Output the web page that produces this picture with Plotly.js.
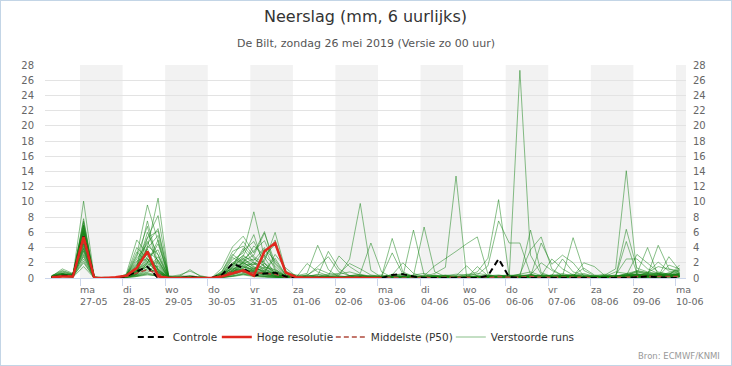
<!DOCTYPE html>
<html><head><meta charset="utf-8">
<script src="https://cdn.plot.ly/plotly-3.0.1.min.js"></script>
<style>
html,body{margin:0;padding:0;background:#fff;}
#wrap{width:730px;height:364px;border:1px solid #c3d5e6;}
#chart{width:730px;height:364px;}
</style>
</head><body>
<div id="wrap"><div id="chart"></div></div>
<script>
// ---- time axis (6-hourly, local time) ----
const stepHours = 6;
const nSteps = 60;
const dayDates = ['2019-05-27','2019-05-28','2019-05-29','2019-05-30','2019-05-31','2019-06-01','2019-06-02','2019-06-03','2019-06-04','2019-06-05','2019-06-06','2019-06-07','2019-06-08','2019-06-09','2019-06-10'];
const dayNames = ['ma','di','wo','do','vr','za','zo','ma','di','wo','do','vr','za','zo','ma'];
const dayLabels = ['27-05','28-05','29-05','30-05','31-05','01-06','02-06','03-06','04-06','05-06','06-06','07-06','08-06','09-06','10-06'];
const shadedDays = [['2019-05-27','2019-05-28'],['2019-05-29','2019-05-30'],['2019-05-31','2019-06-01'],['2019-06-02','2019-06-03'],['2019-06-04','2019-06-05'],['2019-06-06','2019-06-07'],['2019-06-08','2019-06-09'],['2019-06-10','2019-06-11']];
const yTicks = [0,2,4,6,8,10,12,14,16,18,20,22,24,26,28];

// ---- series (mm per 6 h) ----
const controle = [0.1,0.3,0.3, 5.5,0,0,0, 0.2,0.9,1.5,0, 0,0,0.1,0, 0,0.4,1.9,1.3, 0.3,0.6,0.7,0.2, 0,0,0,0, 0,0,0,0, 0,0.4,0.5,0.2, 0,0,0,0, 0,0,0.3,2.5, 0.1,0,0,0, 0,0,0,0, 0,0,0,0, 0.1,0.2,0.1,0, 0];
const hogeResolutie = [0.1,0.2,0.2, 5.4,0,0,0.1, 0.3,1.3,3.5,0.2, 0,0,0,0, 0,0.2,0.6,1.0, 0.3,3.5,4.6,0.7, 0.1,0,0,0, 0,0,0,0, 0];
const middelste = [0.1,0.3,0.2, 4.8,0,0,0, 0.2,0.6,1.1,0.5, 0,0,0,0, 0,0.3,0.9,0.8, 0.7,0.6,0.5,0.1, 0.1,0.1,0.1,0, 0,0.1,0.1,0, 0,0.1,0,0, 0.1,0,0.1,0.1, 0.1,0,0,0.2, 0.1,0.1,0.2,0.1, 0.1,0.1,0.1,0.1, 0,0,0.1,0.1, 0.2,0.2,0.2,0.2, 0.2];

const m01 = [0.2,0.8,0.4, 10.1,0.1,0,0, 0.2,1.0,2.5,0.8, 0,0.1,0.2,0, 0,0.5,1.8,2.6, 1.4,0.8,0.4,0.1, 0,0.2,0.5,0.3, 0,0,0.1,0, 0,0.2,0.4,0.1, 0,0.3,0.1,0, 0,0.2,0.1,0.2, 0.2,27.3,3.0,0.5, 0.2,0.1,0.4,0.2, 0,0,0.2,0.6, 0.4,0.3,0.5,0.2, 0.3];
const m02 = [0.1,0.4,0.2, 7.8,0,0,0.1, 0.3,3.0,9.6,4.8, 0.1,0,0,0.2, 0,0.3,0.9,1.5, 0.8,1.9,0.6,0.2, 0,0,0.2,0.1, 0,0.1,0,0, 0,0.1,0,0.3, 0.2,0.6,1.4,13.4, 0.1,0.3,0.1,0, 0,0.2,0.5,0.1, 0,0.4,0.2,0, 0,0.1,0.3,0.2, 0.5,0.2,0.1,0.4, 0.2];
const m03 = [0,0.3,0.5, 7.3,0.1,0,0, 0.1,0.8,4.0,10.5, 0.2,0,0,0, 0,0.1,0.6,2.2, 3.0,5.9,2.0,0.4, 0.2,0.4,0.2,0, 0,0,0.3,0.2, 0.1,0,0.2,0.1, 0,0.2,0.1,0.3, 0.2,0,0.3,0.1, 0,0.1,0.3,0.2, 0.4,0.3,0.2,0.1, 0,0.4,1.2,14.1, 0.3,0.2,0.6,0.4, 0.5];
const m04 = [0.2,1.2,0.6, 7.0,0.2,0,0, 0.4,2.0,5.3,8.2, 0.1,0.2,0,0, 0,0.8,3.5,4.2, 2.6,1.5,0.8,0.3, 0,0.4,1.2,0.6, 0.3,2.5,9.8,1.0, 0.1,0.2,0,0, 0,0.1,0.2,0, 0.3,0.1,0,0.2, 0.1,0,0.2,0.1, 0.2,0.1,0.3,0.2, 0.1,0,0.2,0.4, 0.2,0.3,0.4,0.6, 0.4];
const m05 = [0.1,0.5,0.3, 6.8,0,0,0, 0.5,5.0,3.2,0.6, 0,0,0.3,0.1, 0,0.2,1.1,2.0, 1.2,0.7,3.1,1.3, 0.2,0.1,0,0, 0,0,0.1,0, 0,0.3,0.6,0.2, 0.1,0,0.3,0.5, 0.4,0.8,2.6,10.3, 0.2,0.5,0.8,0.3, 0.1,0.2,0.1,0, 0,0.2,0.1,0.3, 0.8,0.5,0.3,0.2, 1.0];
const m06 = [0.3,0.9,0.5, 6.5,0,0.1,0, 0.2,0.6,5.3,6.2, 0.3,0,0,0, 0,0.6,2.4,3.3, 8.7,2.7,0.5,0.1, 0,0,0,0.2, 0.2,0,0,0, 0,0.1,0.2,0, 0,0.4,0.1,0, 0,0.2,0.3,0.2, 0.1,0.3,0.2,0.4, 0.3,0.6,0.2,0, 0,0.1,0.2,0.1, 0.3,0.6,0.3,0.7, 0.6];
const m07 = [0,0.2,0.1, 6.3,0.1,0,0, 0.2,1.5,7.5,1.8, 0,0.1,0,0, 0,1.3,4.1,5.5, 3.3,6.1,1.2,0.2, 0.1,1.9,0.8,0.3, 0,0,0.2,0.1, 0.1,0.3,0.5,0.2, 0.1,0,0.2,0.1, 0.5,0.4,1.6,7.5, 4.6,4.6,0.5,0.2, 0.1,0.3,0.2,0.1, 0,0.1,0.2,0.2, 0.4,0.5,0.2,0.3, 0.2];
const m08 = [0.1,0.3,0.2, 6.0,0,0,0, 0.1,0.5,2.0,5.0, 0.1,0,0.1,0, 0,0.1,0.7,1.7, 1.8,2.2,6.0,0.9, 0.3,0.6,4.3,1.1, 0.1,0.2,0.1,0, 0,0,0.1,0, 0,0.2,0.3,0.1, 0.2,0.1,0,0.3, 0.3,0.2,6.3,0.7, 0.2,0.1,0.3,0.2, 0.3,0.5,0.2,0.4, 0.2,0.1,0.3,0.2, 0.3];
const m09 = [0.2,0.6,0.3, 5.8,0,0,0, 0.3,1.1,3.5,2.4, 0,0,0,0.1, 0,0.4,0.9,1.2, 0.9,1.4,1.1,0.3, 0.1,0.2,0.3,3.5, 1.2,0.3,0.1,0, 0.2,5.2,0.8,0.2, 0.1,0,0.1,0.2, 0,0.3,0.2,0.1, 0.1,0,0.1,0.3, 2.5,1.2,0.4,0.2, 0.2,0.3,0.1,0.2, 0.3,0.2,0.2,0.5, 0.4];
const m10 = [0.1,0.4,0.4, 5.5,0.1,0,0, 0.4,2.2,3.0,0.5, 0.2,0.4,0.9,0.3, 0,0.2,1.5,3.9, 2.0,0.9,0.3,0.1, 0,0,0.1,0.3, 2.9,1.5,0.6,4.6, 0.8,0.1,0,0, 0.1,0.3,0.2,0, 0.2,0.6,0.4,0.1, 0,0.3,0.2,0.1, 0.1,0.2,5.3,1.0, 0.3,0.1,0,0.2, 0.2,0.4,0.3,0.2, 0.7];
const m11 = [0,0.3,0.2, 5.2,0,0,0, 0.2,0.9,2.8,3.7, 0,0,0.1,0, 0,0.3,2.0,2.9, 5.7,1.3,0.4,0, 0,0,0,0.1, 0.1,0,0.2,0, 0,0.1,0.2,6.3, 0.4,0.2,0.1,0, 0,0.1,0.2,0.1, 0.2,0.1,0.3,0.2, 0.1,0,0.1,0.3, 0.2,0.1,0.2,4.8, 0.6,0.2,0.1,0.3, 0.5];
const m12 = [0.2,0.5,0.4, 5.0,0,0.1,0, 0.3,4.0,2.5,1.2, 0,0,0,0, 0,0.5,1.2,2.1, 1.1,2.9,4.4,0.6, 0.4,0.2,0.2,0.1, 0,0.3,0.4,0.1, 0,0,0,0.3, 6.7,0.8,0.2,0.1, 0,0,0.2,0.1, 0.1,0.2,0.1,0.3, 0.2,0.3,0.4,0.1, 0,0,0.3,0.5, 0.4,0.7,0.5,0.3, 0.2];
const m13 = [0.1,0.2,0.2, 4.8,0,0,0, 0.1,0.7,1.8,2.0, 0,0.2,1.1,0.2, 0,0.2,0.5,0.9, 0.6,0.4,0.2,0, 0,0,0.1,0.2, 0.5,0.8,0.4,0.1, 0.2,3.3,0.5,0.2, 0,0.2,0.1,0, 0,0.1,0.2,0.3, 0.4,0.2,0.1,0.1, 0,0.2,0.1,0.2, 0.1,0.3,0.2,6.4, 1.3,0.8,0.5,0.3, 1.7];
const m14 = [0.3,0.6,0.2, 4.5,0.1,0,0, 0.2,1.3,4.2,3.1, 0.1,0,0,0, 0,0.3,1.6,2.5, 1.7,3.8,2.3,0.4, 0.1,0.3,0.2,0.1, 0,0.2,0.3,0.2, 0,0.1,0,0, 0.3,1.6,2.5,3.5, 4.5,5.4,0.5,0.1, 0,0.2,0.4,0.2, 0.1,0.2,0.1,0.1, 0.2,0.1,0,0.3, 0.2,0.3,0.4,0.2, 0.6];
const m15 = [0.1,0.3,0.1, 4.2,0,0,0, 0.1,0.4,1.0,1.6, 0,0,0,0, 0,0.1,0.4,1.0, 0.7,0.5,0.2,0, 0,0.1,0.1,0, 0,0,0.1,0.3, 0.4,0.2,0.1,0, 0.1,0.2,0.3,0.1, 0,0.1,0.2,0.2, 0.3,0.5,3.7,5.4, 1.2,0.3,0.2,0.1, 0,0.1,0.3,0.2, 0.6,4.0,0.3,0.4, 0.3];
const m16 = [0.2,0.4,0.3, 4.0,0,0,0, 0.3,0.8,1.5,0.4, 0,0.3,0.2,0, 0,0.2,0.8,1.4, 1.2,1.0,0.5,0.2, 0,0.2,0.4,0.2, 0.3,0.1,0,0, 0,0,0.2,0.3, 0.2,0.1,0.1,0.1, 0.1,0,0.1,0.2, 0.1,0.1,0.2,4.6, 1.8,3.0,2.0,0.3, 0.1,0.2,0.2,0.5, 0.5,0.4,4.3,1.2, 0.9];
const m17 = [0,0.2,0.3, 3.8,0,0,0, 0.2,1.7,3.8,0.9, 0,0,0,0, 0,0.4,2.7,1.8, 0.9,0.6,0.3,0.1, 0,0.3,1.5,2.8, 0.8,0.3,0.2,0, 0,0.1,0,0.1, 0,0.1,0,0.2, 0.2,0.1,0.3,0.4, 0.2,0.4,0.3,0.1, 0.3,2.5,0.8,0.4, 0.2,0.2,0.4,2.5, 2.5,1.2,0.6,0.3, 0.4];
const m18 = [0.1,0.3,0.2, 3.5,0,0,0, 0.1,0.4,0.8,1.2, 0,0,0,0, 0,0,0.3,0.6, 0.4,0.8,0.5,0.1, 0,0,0.2,0.5, 0.6,1.9,1.2,0.4, 0.2,0.1,0.2,0, 0,0.1,0.1,0, 0.1,0.1,0.2,0.1, 0,0.1,0.2,0.3, 0.2,0.1,0.2,2.0, 1.5,0.3,0.1,0.2, 0.3,0.2,0.2,0.2, 0.2];
const m19 = [0.2,0.5,0.3, 3.2,0.1,0,0, 0.2,0.6,2.2,1.0, 0.1,0,0,0.1, 0,0.2,1.0,2.3, 1.5,0.7,0.2,0, 0,0.1,0,0.1, 0.2,0.1,0.2,0.3, 0.1,0.2,0.1,0.1, 0.3,0.2,0.4,0.2, 0.3,0.2,0.1,0.1, 0.2,0.1,0.1,0.2, 0.1,0.3,0.5,0.2, 0.1,0.1,0.2,0.3, 3.1,2.0,0.8,0.5, 1.3];
const m20 = [0.1,0.2,0.1, 3.0,0,0,0, 0,0.2,0.6,0.2, 0,0,0,0, 0,0.1,0.2,0.5, 0.3,0.2,0.1,0, 0,0,0,0, 0,0,0,0.1, 0.1,0,0.1,0.1, 0,0,0.1,0.1, 0.1,0.1,0,0.1, 0.1,0.1,0.2,0.1, 0.1,0.1,0.1,0.1, 0,0,0.1,0.2, 0.2,0.1,0.2,2.8, 1.0];
const m21 = [0.2,0.6,0.4, 2.8,0,0,0, 0.3,1.0,1.4,0.6, 0,0,0,0, 0,0.5,1.3,0.8, 0.5,0.3,0.1,0, 0,0.1,0.2,0.1, 0,0,0.1,0.2, 0.2,0.4,2.0,0.6, 0.2,0.1,0,0, 0,0.2,0.3,0.2, 0.3,0.2,0.1,0, 0.1,0.2,0.3,0.4, 0.3,0.2,0.8,0.6, 0.9,0.7,1.5,1.1, 0.8];
const m22 = [0,0.3,0.2, 2.5,0,0,0, 0.1,0.3,0.7,0.4, 0,0,0,0, 0,0.2,0.6,1.1, 0.8,0.4,0.2,0, 0,0,0,0, 0.1,0.3,0.5,0.2, 0,0,0.1,0, 0,0.1,0.2,0.1, 0,0,0.1,0.1, 0.1,0.2,0.1,0.3, 0.2,0.4,0.3,1.3, 0.4,0.2,0.1,0.1, 0.2,0.3,0.2,1.7, 1.2];
const m23 = [0.1,0.4,0.2, 2.2,0,0,0, 0.2,0.5,1.2,0.8, 0,0,0,0, 0,0.3,0.5,0.7, 0.4,0.2,0.1,0, 0,0,0,0, 0,0,0,0, 0,0.1,0.1,0, 0,0,0,0.1, 0.2,0.1,0.1,0, 0,0.1,0.1,0.1, 0.1,0.1,0.2,0.1, 0.1,0.2,0.3,0.2, 0.2,0.5,0.6,0.4, 0.5];
const m24 = [0.1,0.2,0.1, 1.5,0,0,0, 0.1,0.2,0.4,0.3, 0,0,0,0, 0,0.1,0.2,0.4, 0.2,0.1,0,0, 0,0,0,0, 0,0,0.1,0, 0,0,0,0, 0,0,0.1,0, 0,0.1,0,0, 0,0,0,0.1, 0,0.1,0.1,0, 0,0,0,0.1, 0.1,0.1,0.2,0.3, 0.4];
const m25 = [0.2,0.3,0.3, 6.9,0,0,0, 0.2,1.2,6.0,3.0, 0.1,0,0,0, 0,0.2,1.0,2.0, 4.2,3.0,1.5,0.2, 0.1,0,0.1,0, 0,0,0.1,0, 0,0.2,0.1,0, 0,0.1,0.3,0.2, 0,1.5,0.3,0, 0.1,0.2,0.1,0, 0.2,0.3,0.2,0.1, 0,0.2,0.1,0.2, 0.5,0.4,0.3,0.2, 0.5];
const m26 = [0.1,0.3,0.2, 6.1,0,0,0, 0.3,2.5,4.5,6.5, 0.2,0,0,0, 0,0.6,2.0,1.5, 1.0,2.5,5.0,0.8, 0.2,0.1,0,0, 0,0.3,0.2,0, 0,0.5,0.2,0, 0,0.1,0,0, 0.1,0.2,0.1,0.3, 0.2,0.1,0.4,2.0, 1.0,0.3,0.1,0, 0,0,0.2,0.3, 0.4,0.3,0.2,0.3, 0.6];
const m27 = [0.3,0.7,0.5, 5.7,0,0,0, 0.2,1.0,2.0,4.5, 0.1,0,0,0, 0,0.3,1.4,2.8, 2.3,4.0,1.0,0.2, 0,0,0.2,0.1, 0,0,0,0.1, 0.3,0.2,0.1,0, 0.2,0.3,0.1,0, 0,0.2,0.2,0.1, 0.1,0.3,0.4,0.1, 0.2,0.1,0.2,0.1, 0.1,0.2,0.1,0.4, 0.8,0.6,0.7,0.5, 1.1];
const m28 = [0.1,0.2,0.3, 4.6,0,0,0, 0.4,1.8,2.6,0.3, 0,0,0.2,0, 0,0.2,0.7,1.3, 2.1,1.2,0.6,0.1, 0,0,0,0, 0.1,0.2,0.1,0, 0.1,0,0,0.2, 0.1,0,0.2,0.3, 1.6,0.2,0.1,0, 0.1,0.2,0.1,0.1, 0.4,0.2,0.1,0.2, 0.1,0.3,0.2,0.2, 0.3,0.3,0.2,0.4, 0.3];
const m29 = [0.2,0.4,0.2, 3.6,0,0,0, 0.2,0.7,1.2,2.8, 0,0,0,0, 0,0.2,0.9,1.2, 0.7,0.5,0.8,0.2, 0,0,0,0.1, 0,0.2,0.3,0.1, 0,0,0.2,0.4, 0.6,0.2,0.1,0, 0.1,0.2,0.1,0.2, 0.1,0.2,0.2,0.2, 0.3,0.2,0.3,0.6, 0.2,0,0.1,0.3, 1.0,0.7,2.1,0.9, 0.7];
const m30 = [0,0.2,0.2, 2.0,0,0,0, 0.1,0.3,0.5,0.2, 0,0.1,0.3,0.1, 0,0.1,0.3,0.5, 0.3,0.2,0.1,0, 0,0,0,0, 0,0,0,0, 0,0,0,0.1, 0.1,0,0,0, 0,0,0.1,0, 0,0,0.1,0.1, 0.1,0,0.1,0.2, 0.1,0.1,0,0.1, 0.1,0.2,0.3,0.2, 0.3];
const m31 = [0.1,0.5,0.3, 7.5,0,0,0, 0.3,1.6,4.8,2.2, 0,0,0,0, 0,0.7,2.9,4.8, 2.8,1.9,0.6,0.1, 0,0,0.1,0, 0,0.1,0,0, 0,0,0.1,0, 0,0.1,0,0, 0.1,0,0.1,0, 0,0.1,0.2,0.1, 0.1,0.1,0,0.1, 0,0,0.1,0.2, 0.3,0.2,0.4,0.3, 0.4];
const m32 = [0.2,0.6,0.2, 6.6,0,0,0, 0.2,2.8,6.8,1.0, 0,0,0,0, 0,0.4,1.8,3.6, 4.8,2.0,0.9,0.2, 0,0.1,0,0, 0,0,0.1,0, 0.1,0,0,0, 0,0,0.1,0, 0,0.1,0,0, 0,0,0.1,0.1, 0.2,0.1,0.1,0, 0,0.1,0.1,0.1, 0.2,0.3,0.2,0.2, 0.3];
const m33 = [0.1,0.3,0.4, 5.9,0,0,0, 0.1,0.9,3.9,5.6, 0.1,0,0,0, 0,0.2,1.3,2.4, 3.6,4.9,1.8,0.3, 0,0,0,0.1, 0,0,0,0, 0,0.1,0,0, 0,0,0,0.1, 0.1,0,0,0, 0.1,0,0,0.1, 0,0.1,0.1,0, 0,0,0.1,0.1, 0.1,0.2,0.2,0.1, 0.2];
const m34 = [0.3,1.0,0.5, 6.2,0,0,0, 0.3,3.4,2.1,0.7, 0,0,0.2,0, 0,0.9,3.1,2.0, 1.3,0.9,2.6,0.4, 0,0,0,0, 0,0,0,0.1, 0,0,0.1,0, 0,0,0,0, 0,0,0.1,0, 0.1,0,0,0, 0.1,0,0.1,0.1, 0,0.1,0,0, 0.2,0.1,0.3,0.2, 0.2];
const m35 = [0.1,0.2,0.2, 5.3,0,0,0, 0.2,0.8,2.4,1.4, 0,0,0,0, 0,0.3,0.8,1.9, 2.5,1.6,0.5,0.1, 0,0,0,0, 0,0,0,0, 0,0,0,0, 0,0.1,0,0, 0,0,0,0.1, 0,0,0.1,0, 0,0,0,0.1, 0.1,0,0,0.1, 0.1,0.1,0.1,0.2, 0.2];
const m36 = [0.2,0.4,0.3, 4.4,0,0,0, 0.1,0.6,1.6,2.3, 0,0,0,0, 0,0.2,1.1,1.6, 1.0,0.7,0.3,0, 0,0,0,0, 0,0,0,0, 0,0,0,0, 0.1,0,0,0, 0,0,0,0, 0,0.1,0,0, 0,0,0.1,0, 0,0.1,0,0.1, 0.1,0.2,0.1,0.1, 0.1];
const m37 = [0.1,0.3,0.2, 3.9,0,0,0, 0.1,0.5,1.9,0.8, 0,0,0,0, 0,0.1,0.6,1.1, 0.9,0.5,0.2,0, 0,0,0,0, 0,0,0,0, 0,0,0,0, 0,0,0,0, 0,0,0,0, 0,0,0,0, 0,0,0,0, 0,0,0,0.1, 0.1,0.1,0.1,0.1, 0.1];
const m38 = [0.2,0.5,0.3, 5.0,0,0,0, 0.2,1.4,3.2,1.1, 0,0,0,0, 0,0.5,1.7,3.0, 1.9,1.2,0.4,0.1, 0,0,0,0, 0,0,0,0, 0,0,0,0, 0,0,0,0, 0,0,0,0, 0,0,0,0, 0,0,0,0, 0,0,0,0, 0,0.1,0.1,0.2, 0.2];
const verstoordeRuns = [m01,m02,m03,m04,m05,m06,m07,m08,m09,m10,m11,m12,m13,m14,m15,m16,m17,m18,m19,m20,m21,m22,m23,m24,m25,m26,m27,m28,m29,m30,m31,m32,m33,m34,m35,m36,m37,m38];

// ---- build ----
[controle, middelste].concat(verstoordeRuns).forEach((s, i) => {
  if (s.length !== nSteps) throw new Error('series ' + i + ' has length ' + s.length);
});
const t0 = Date.UTC(2019, 4, 26, 8, 0);
const times = [];
for (let k = 0; k < nSteps; k++) {
  times.push(new Date(t0 + k * stepHours * 3600e3).toISOString().slice(0, 16).replace('T', ' '));
}

const FONT = 'DejaVu Sans, Verdana, sans-serif';
const traces = [];
verstoordeRuns.forEach((m, i) => {
  traces.push({
    x: times, y: m, type: 'scatter', mode: 'lines', name: 'Verstoorde runs',
    legendgroup: 'ens', showlegend: i === 0, legendrank: 4, legendwidth: 90, hoverinfo: 'skip',
    line: {color: 'rgba(20,130,20,0.5)', width: 1}
  });
});
traces.push({x: times, y: middelste, type: 'scatter', mode: 'lines', name: 'Middelste (P50)',
  legendrank: 3, legendwidth: 75, hoverinfo: 'skip', line: {color: '#b04a3c', width: 1.5, dash: '5px,3px'}});
traces.push({x: times, y: controle, type: 'scatter', mode: 'lines', name: 'Controle',
  legendrank: 1, legendwidth: 39, hoverinfo: 'skip', line: {color: '#000000', width: 2, dash: '6px,4px'}});
traces.push({x: times.slice(0, hogeResolutie.length), y: hogeResolutie, type: 'scatter', mode: 'lines',
  name: 'Hoge resolutie', yaxis: 'y2', legendrank: 2, legendwidth: 69, hoverinfo: 'skip',
  line: {color: '#e0281e', width: 2.5}});

const shapes = shadedDays.map(d => ({
  type: 'rect', xref: 'x', yref: 'paper', x0: d[0], x1: d[1], y0: 0, y1: 1,
  fillcolor: '#f2f2f2', line: {width: 0}, layer: 'below'
}));

const annotations = dayDates.map((d, i) => ({
  x: d, xref: 'x', y: 0, yref: 'paper', xanchor: 'left', yanchor: 'top',
  yshift: -4, xshift: -2, align: 'left', showarrow: false,
  text: dayNames[i] + '<br>' + dayLabels[i],
  font: {family: FONT, size: 9.5, color: '#666'}
}));
annotations.push({x: 0.5, xref: 'paper', y: 1.2254, yref: 'paper', xanchor: 'center', yanchor: 'middle',
  showarrow: false, text: 'Neerslag (mm, 6 uurlijks)', font: {family: FONT, size: 16, color: '#333'}});
annotations.push({x: 0.5, xref: 'paper', y: 1.0986, yref: 'paper', xanchor: 'center', yanchor: 'middle',
  showarrow: false, text: 'De Bilt, zondag 26 mei 2019 (Versie zo 00 uur)', font: {family: FONT, size: 11, color: '#555'}});
annotations.push({x: 1.056, xref: 'paper', y: -0.366, yref: 'paper', xanchor: 'right', yanchor: 'middle',
  showarrow: false, text: 'Bron: ECMWF/KNMI', font: {family: FONT, size: 8.5, color: '#999'}});

const yAxisCommon = {range: [0, 28], tickmode: 'array', tickvals: yTicks, zeroline: false,
  tickfont: {family: FONT, size: 10, color: '#666'}, fixedrange: true};

const layout = {
  width: 730, height: 364,
  margin: {l: 44, r: 45, t: 64, b: 87, pad: 0},
  paper_bgcolor: '#ffffff', plot_bgcolor: 'rgba(0,0,0,0)',
  font: {family: FONT, color: '#333'},
  showlegend: true,
  legend: {orientation: 'h', x: 0.137, xanchor: 'left', y: -0.277, yanchor: 'middle',
    font: {family: FONT, size: 10.5, color: '#333'}, bgcolor: 'rgba(0,0,0,0)'},
  xaxis: {type: 'date', range: ['2019-05-26 04:15', '2019-06-10 05:40'], showgrid: false, zeroline: false,
    showline: true, linecolor: '#ccd6eb', linewidth: 1, ticks: 'outside', ticklen: 7, tickcolor: '#ccd6eb',
    tickmode: 'array', tickvals: dayDates, showticklabels: false, fixedrange: true},
  yaxis: Object.assign({}, yAxisCommon, {showgrid: true, gridcolor: '#e3e3e3', gridwidth: 1,
    ticks: '', ticklabelstandoff: 10}),
  yaxis2: Object.assign({}, yAxisCommon, {overlaying: 'y', side: 'right', showgrid: false,
    ticks: '', ticklabelstandoff: 6}),
  shapes: shapes,
  annotations: annotations
};

Plotly.newPlot('chart', traces, layout, {displayModeBar: false, staticPlot: true});
</script>
</body></html>
